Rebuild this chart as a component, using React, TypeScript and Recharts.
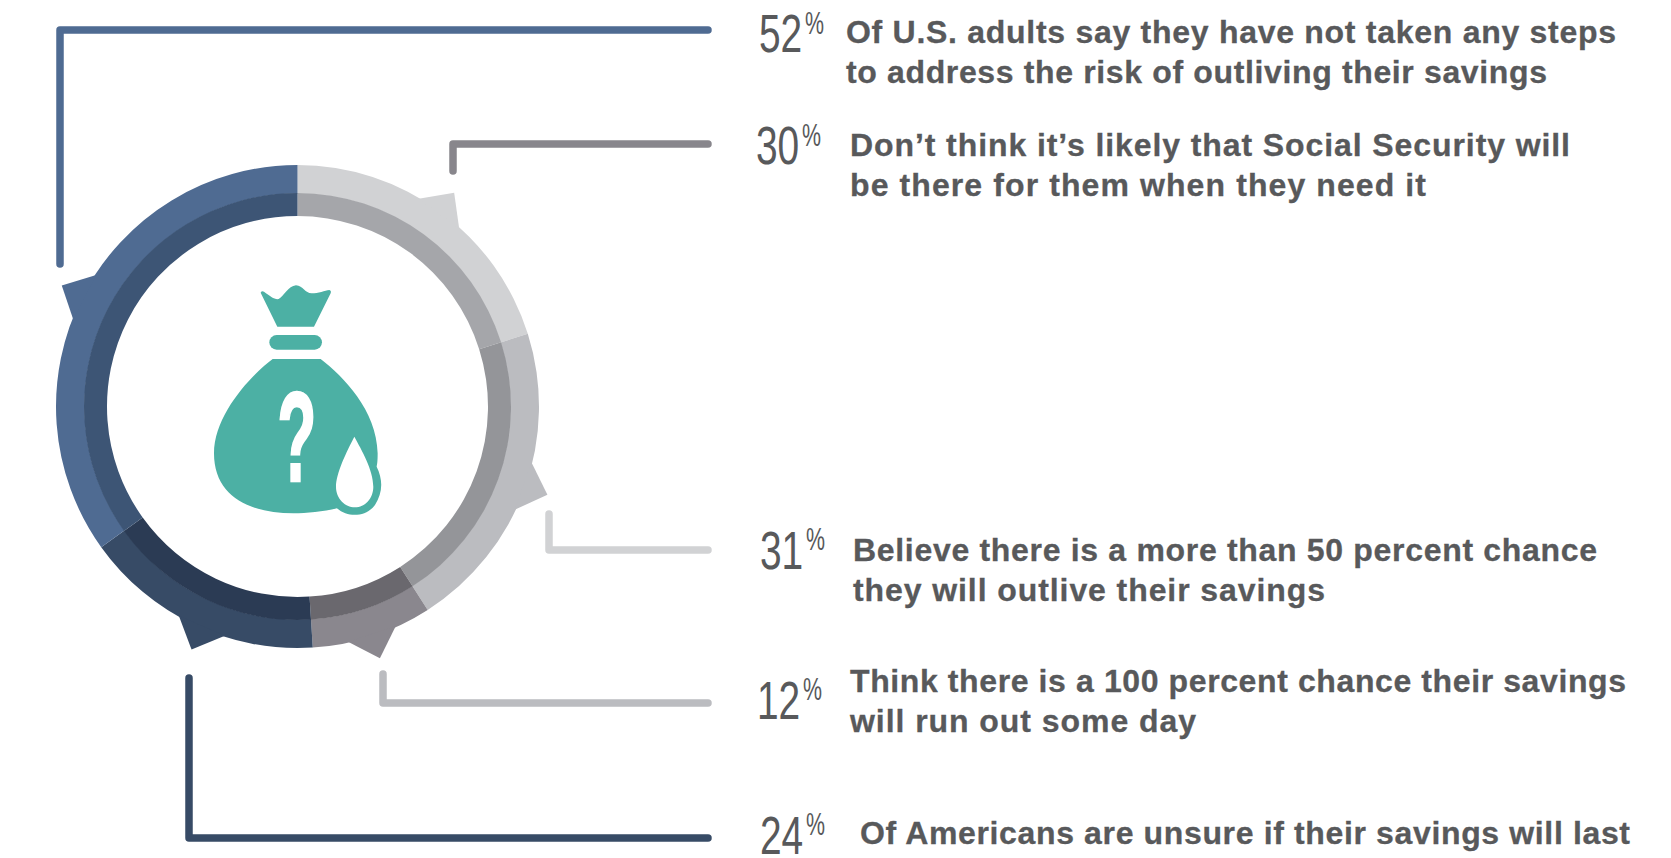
import React from 'react';
import { PieChart, Pie, Sector } from 'recharts';

document.body.style.margin = '0';

const shares = [30, 31, 12, 24, 52];
const outerColors = ['#D1D2D4', '#BBBCC0', '#8A878E', '#374B66', '#4F6B92'];
const innerColors = ['#A5A6AA', '#949599', '#6A686E', '#2B3B54', '#3D5575'];

const statValues = ['52', '30', '31', '12', '24'];
const statLines = [
    ['Of U.S. adults say they have not taken any steps', 'to address the risk of outliving their savings'],
    ['Don’t think it’s likely that Social Security will', 'be there for them when they need it'],
    ['Believe there is a more than 50 percent chance', 'they will outlive their savings'],
    ['Think there is a 100 percent chance their savings', 'will run out some day'],
    ['Of Americans are unsure if their savings will last'],
];

const outerData = shares.map((value, i) => ({ value, fill: outerColors[i] }));
const innerData = shares.map((value, i) => ({ value, fill: innerColors[i] }));

// layout of the text rows and the leader lines
const numberPos = [
    { x: 759, y: 52, px: 805, py: 34 },
    { x: 756, y: 164, px: 802, py: 146 },
    { x: 760, y: 569, px: 806, py: 550 },
    { x: 757, y: 719, px: 803, py: 700 },
    { x: 760, y: 854, px: 806, py: 835 },
];
const textPos = [
    { x: 846, y: 43 },
    { x: 850, y: 156 },
    { x: 853, y: 561 },
    { x: 850, y: 692 },
    { x: 860, y: 844 },
];
const lineWidths = [[770, 701], [720, 576], [744, 472], [776, 346], [770]];
const leaders = [
    { points: '60,264 60,30 708,30', color: '#4F6B92' },
    { points: '453,171 453,144 708,144', color: '#88868C' },
    { points: '549,514 549,550 708,550', color: '#D1D2D4' },
    { points: '383,674 383,703 708,703', color: '#BBBCC0' },
    { points: '189,678 189,838 708,838', color: '#374B66' },
];
// a couple of the pointers sit a little before the middle of their slice
const tabShift = [0, 0.5, 0, 1.8, 0];

const TEXT_COLOR = '#58595B';
const TEAL = '#4CB0A4';
const RADIAN = Math.PI / 180;

// outer ring sector with the little pointer on its middle
const TabbedSector = (props: any) => {
    const { cx, cy, outerRadius, startAngle, endAngle, fill, index } = props;
    const mid = (startAngle + endAngle) / 2 + tabShift[index];
    const at = (r: number, a: number) => `${cx + r * Math.cos(a * RADIAN)},${cy - r * Math.sin(a * RADIAN)}`;
    return (
        <g>
            <Sector {...props} stroke="none" />
            <polygon
                points={`${at(outerRadius - 1, mid - 6)} ${at(outerRadius + 23.5, mid)} ${at(outerRadius - 1, mid + 6)}`}
                fill={fill}
            />
        </g>
    );
};

const BagIcon: React.FC = () => (
    <g transform="translate(190 260) scale(0.3333)">
        <path
            d="M212 98 Q215 92 222 95 C240 108 255 120 266 117 C280 110 295 78 318 76 C340 78 345 100 365 100 C385 100 405 92 418 90 Q425 92 422 100 L372 200 L262 200 Z"
            fill={TEAL}
        />
        <rect x={238} y={225} width={158} height={44} rx={22} fill={TEAL} />
        <path
            d="M248 297 L392 297 C460 350 560 450 563 580 C563 600 562 610 560 620 C580 660 578 700 555 735 C530 770 475 775 441 745 C400 755 350 760 310 760 C180 760 72 710 72 580 C72 460 190 340 248 297 Z"
            fill={TEAL}
        />
        <path
            d="M493 530 C515 570 550 630 550 680 C550 715 525 742 495 742 C465 742 438 715 438 680 C438 640 470 575 493 530 Z"
            fill="#FFFFFF"
        />
        <text
            transform="translate(262 664) scale(0.5 1)"
            fontFamily="Liberation Sans"
            fontWeight={700}
            fontSize={385}
            fill="#FFFFFF"
            stroke="#FFFFFF"
            strokeWidth={7}
        >
            ?
        </text>
    </g>
);

const App: React.FC = () => {
    return (
        <div style={{ width: 1671, height: 858, background: '#FFFFFF' }}>
            <PieChart width={1671} height={858} margin={{ top: 0, right: 0, bottom: 0, left: 0 }}>
                {leaders.map((line) => (
                    <polyline
                        key={line.points}
                        points={line.points}
                        fill="none"
                        stroke={line.color}
                        strokeWidth={7.5}
                        strokeLinecap="round"
                        strokeLinejoin="round"
                    />
                ))}
                <Pie
                    data={outerData}
                    dataKey="value"
                    cx={297.5}
                    cy={406.5}
                    startAngle={90}
                    endAngle={-270}
                    innerRadius={213}
                    outerRadius={241.5}
                    stroke="none"
                    shape={TabbedSector}
                    isAnimationActive={false}
                />
                <Pie
                    data={innerData}
                    dataKey="value"
                    cx={297.5}
                    cy={406.5}
                    startAngle={90}
                    endAngle={-270}
                    innerRadius={190.5}
                    outerRadius={213.5}
                    stroke="none"
                    isAnimationActive={false}
                />
                <BagIcon />
                {statValues.map((value, i) => (
                    <g key={value} fill={TEXT_COLOR} fontFamily="Liberation Sans">
                        <text transform={`translate(${numberPos[i].x} ${numberPos[i].y}) scale(0.72 1)`} fontSize={54}>
                            {value}
                        </text>
                        <text transform={`translate(${numberPos[i].px} ${numberPos[i].py}) scale(0.69 1)`} fontSize={31}>
                            %
                        </text>
                    </g>
                ))}
                {statLines.map((lines, i) =>
                    lines.map((line, j) => (
                        <text
                            key={line}
                            x={textPos[i].x}
                            y={textPos[i].y + j * 40}
                            fontFamily="Liberation Sans"
                            fontWeight={700}
                            fontSize={32}
                            textLength={lineWidths[i][j]}
                            lengthAdjust="spacing"
                            fill={TEXT_COLOR}
                            stroke={TEXT_COLOR}
                            strokeWidth={0.3}
                        >
                            {line}
                        </text>
                    )),
                )}
            </PieChart>
        </div>
    );
};

export default App;
